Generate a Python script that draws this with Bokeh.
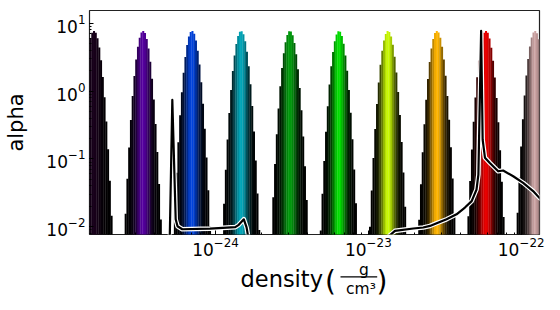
import numpy as np
from bokeh.plotting import figure
from bokeh.layouts import column
from bokeh.models import Range1d
from bokeh.core.properties import value
from bokeh.embed import file_html
from bokeh.resources import INLINE

# ---- data -------------------------------------------------------------
# x bounds of the transfer function (log10 of density in g/cm^3)
x_bounds_log = [-24.825, -21.880]
n_bins = 256
# Gaussian layers of the colour transfer function
layer_centers = [-24.796, -24.475, -24.155, -23.834, -23.514,
                 -23.193, -22.872, -22.552, -22.231, -21.910]
layer_colors = ["#18001b", "#55009f", "#0042dd", "#00a5b8", "#009b0c",
                "#00e000", "#c9fa00", "#ffb500", "#ea0000", "#cca3a3"]
layer_peak_alpha = 7.7
layer_width = 0.0021          # Gaussian width, (log10 density)^2

# overplotted density profile (log10 density, scaled profile value; 0 = empty bin)
profile_logx = [-24.40, -24.315, -24.283, -24.261, -24.249, -24.218, -24.036,
                -23.871, -23.848, -23.815, -23.797, -23.789, -23.70,
                -23.00, -22.924, -22.826, -22.706, -22.641, -22.597, -22.553,
                -22.488, -22.423, -22.368, -22.324, -22.292, -22.280, -22.262,
                -22.252, -22.237, -22.205, -22.172, -22.150, -22.118, -22.052,
                -21.987, -21.922, -21.878, -21.850]
profile_val = [0.0, 0.0, 0.74, 0.0129, 0.0102, 0.0092, 0.0094,
               0.0099, 0.0107, 0.0129, 0.0098, 0.0077, 0.0,
               0.0, 0.0056, 0.0087, 0.00944, 0.00977, 0.0103, 0.0113,
               0.0129, 0.0153, 0.0192, 0.0239, 0.0355, 0.0589, 7.7,
               0.192, 0.1045, 0.0874, 0.0737, 0.0658, 0.0675, 0.0556,
               0.0445, 0.0336, 0.0263, 0.0245]

y_range = [layer_peak_alpha * 1e-3, layer_peak_alpha * 2.0]

# ---- build the transfer-function strips ------------------------------
def hex_rgb(h):
    return np.array([int(h[i:i + 2], 16) / 255.0 for i in (1, 3, 5)])

edges = np.linspace(x_bounds_log[0], x_bounds_log[1], n_bins + 1)
mids = 0.5 * (edges[:-1] + edges[1:])
alpha = np.zeros(n_bins)
rgb = np.zeros((n_bins, 3))
for c, col in zip(layer_centers, layer_colors):
    g = np.exp(-(mids - c) ** 2 / layer_width)
    alpha += layer_peak_alpha * g
    rgb += np.outer(g, hex_rgb(col))
rgb = np.clip(rgb, 0, 1)
keep = alpha > y_range[0] * 0.5
step = edges[1] - edges[0]
left = 10 ** edges[:-1][keep]
right = 10 ** (edges[1:][keep] + 0.15 * step)
top = alpha[keep]
cols = ["#%02x%02x%02x" % tuple(int(round(v * 255)) for v in c) for c in rgb[keep]]

FONT = "DejaVu Sans"
p = figure(x_axis_type="log", y_axis_type="log",
           x_range=Range1d(10 ** x_bounds_log[0], 10 ** x_bounds_log[1]),
           y_range=Range1d(*y_range), title=None,
           frame_width=450, frame_height=224,
           min_border_left=0, min_border_right=21, min_border_top=10, min_border_bottom=46,
           output_backend="svg", toolbar_location=None)
p.background_fill_color = "white"
p.border_fill_color = "white"
p.grid.visible = False
p.outline_line_color = "#222222"
p.outline_line_width = 1.2

p.quad(left=left, right=right, bottom=np.full(len(top), 1e-4), top=top,
       fill_color=cols, line_color=None)

px = 10 ** np.array(profile_logx)
py = np.clip(np.array(profile_val), 1e-4, None)
p.line(px, py, line_color="white", line_width=4.6, line_join="round")
p.line(px, py, line_color="black", line_width=2.2, line_join="round")

for ax in (p.xaxis, p.yaxis):
    ax.axis_line_color = None
    ax.major_tick_in = 4
    ax.major_tick_out = 0
    ax.minor_tick_in = 2
    ax.minor_tick_out = 0
    ax.major_tick_line_color = "black"
    ax.minor_tick_line_color = "black"
    ax.major_label_text_font = FONT
    ax.major_label_text_font_size = "17px"
    ax.major_label_text_color = "black"

p.xaxis.major_label_standoff = 2
p.yaxis.major_label_standoff = 4
p.yaxis.axis_label = "alpha"
p.yaxis.axis_label_text_font = FONT
p.yaxis.axis_label_text_font_size = "21px"
p.yaxis.axis_label_text_font_style = "normal"
p.yaxis.axis_label_text_color = "black"
p.yaxis.axis_label_standoff = 15

# ---- x label strip: density (g / cm^3); coordinates = page pixels ----
q = figure(frame_width=450, frame_height=44, x_range=Range1d(89, 539), y_range=Range1d(0, 44),
           title=None, min_border_left=89, min_border_right=21, min_border_top=0,
           min_border_bottom=0, x_axis_location=None, y_axis_location=None,
           output_backend="svg", toolbar_location=None)
q.margin = (-22, 0, 0, 0)
q.grid.visible = False
q.outline_line_color = None
q.background_fill_alpha = 0
q.border_fill_alpha = 0

def txt(t, x, page_y, size, align="center"):
    q.text(x=[x], y=[310 - page_y], text=[t], text_font=value(FONT),
           text_font_size=value(size), text_align=align,
           text_baseline="alphabetic", text_color="black")

txt("density", 240.0, 286.7, "22.5px", align="left")
txt("(", 330.0, 289.3, "28px")
txt(")", 381.5, 289.3, "28px")
txt("g", 363.3, 277.0, "15.5px")
txt("cm³", 360.5, 296.7, "15.5px")
q.quad(left=[340.0], right=[376.7], bottom=[310 - 285.0], top=[310 - 283.8],
       fill_color="black", line_color=None)

open("out.html", "w").write(file_html(column(p, q, spacing=0), INLINE))
